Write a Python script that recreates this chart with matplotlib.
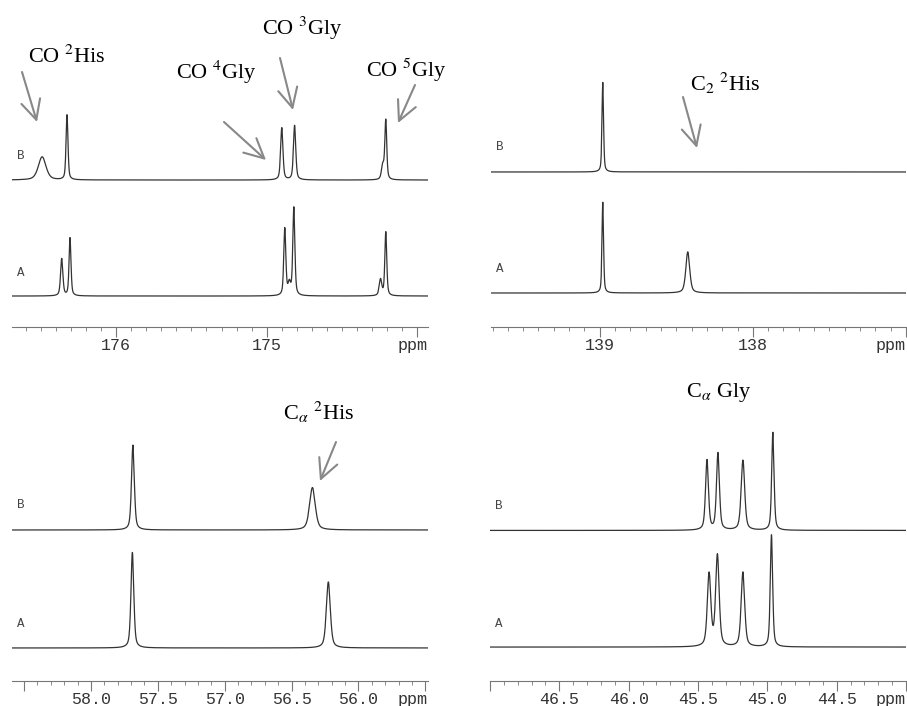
import matplotlib
matplotlib.use("Agg")
import matplotlib.pyplot as plt
import matplotlib.transforms as mtrans
import numpy as np
from matplotlib.ticker import MultipleLocator, FixedLocator

plt.rcParams['mathtext.fontset'] = 'stix'
plt.rcParams['font.family'] = 'Liberation Serif'

# peak tables: ppm position, height (relative to A-B spacing), width (ppm)
co_ppm_a = [176.36, 176.305, 174.88, 174.85, 174.82, 174.245, 174.21]
co_hgt_a = [0.32, 0.50, 0.58, 0.10, 0.76, 0.14, 0.55]
co_wid_a = [0.018, 0.015, 0.016, 0.02, 0.016, 0.02, 0.015]
co_ppm_b = [176.49, 176.325, 174.90, 174.815, 174.23, 174.21]
co_hgt_b = [0.20, 0.56, 0.45, 0.47, 0.12, 0.51]
co_wid_b = [0.06, 0.015, 0.018, 0.018, 0.02, 0.015]

c2_ppm_a = [138.98, 138.425]
c2_hgt_a = [0.75, 0.34]
c2_wid_a = [0.012, 0.03]
c2_ppm_b = [138.98]
c2_hgt_b = [0.74]
c2_wid_b = [0.012]

ca_ppm_a = [57.69, 56.225]
ca_hgt_a = [0.81, 0.56]
ca_wid_a = [0.025, 0.035]
ca_ppm_b = [57.686, 56.344]
ca_hgt_b = [0.72, 0.36]
ca_wid_b = [0.025, 0.05]

gly_ppm_a = [45.42, 45.36, 45.176, 44.97]
gly_hgt_a = [0.62, 0.78, 0.64, 0.96]
gly_wid_a = [0.03, 0.03, 0.03, 0.02]
gly_ppm_b = [45.435, 45.356, 45.176, 44.96]
gly_hgt_b = [0.60, 0.66, 0.60, 0.84]
gly_wid_b = [0.025, 0.025, 0.03, 0.02]

W, H = 907, 706


def spectrum(x, ppm, hgt, wid):
    # half lorentzian, half gaussian line shape
    y = np.zeros_like(x)
    for p, h, w in zip(ppm, hgt, wid):
        d = (x - p) / (w / 2)
        y += h * (0.5 / (1 + d ** 2) + 0.5 * np.exp(-np.log(2) * d ** 2))
    return y


# panel layout: (left px, right px, spine px, top px), xlim, major step, A/B peaks
panels = [
    ((12, 428, 327, 0), (176.69, 173.93), 1.0, '%d', (-0.267, 2.552),
     (co_ppm_a, co_hgt_a, co_wid_a), (co_ppm_b, co_hgt_b, co_wid_b)),
    ((491, 906, 327, 0), (139.71, 137.0), 1.0, '%d', (-0.281, 2.421),
     (c2_ppm_a, c2_hgt_a, c2_wid_a), (c2_ppm_b, c2_hgt_b, c2_wid_b)),
    ((12, 428, 681, 355), (58.59, 55.48), 0.5, '%.1f', (-0.280, 2.483),
     (ca_ppm_a, ca_hgt_a, ca_wid_a), (ca_ppm_b, ca_hgt_b, ca_wid_b)),
    ((490, 906, 681, 355), (47.0, 44.0), 0.5, '%.1f', (-0.291, 2.504),
     (gly_ppm_a, gly_hgt_a, gly_wid_a), (gly_ppm_b, gly_hgt_b, gly_wid_b)),
]

fig = plt.figure(figsize=(W / 100, H / 100), dpi=100)

for (l, r, b, t), xl, step, fmt, yl, pa, pb in panels:
    ax = fig.add_axes([l / W, 1 - b / H, (r - l) / W, (b - t) / H])
    ax.patch.set_visible(False)
    x = np.linspace(xl[1], xl[0], 4000)
    ax.plot(x, spectrum(x, *pa), color='#333333', lw=0.9)
    ax.plot(x, spectrum(x, *pb) + 1.0, color='#333333', lw=0.9)
    ax.set_xlim(xl)
    ax.set_ylim(yl)
    for s in ['top', 'left', 'right']:
        ax.spines[s].set_visible(False)
    ax.spines['bottom'].set_color('#777777')
    ax.set_yticks([])
    lo, hi = min(xl), max(xl)
    majors = np.arange(np.ceil(lo / step) * step, hi + 1e-6, step)
    ax.xaxis.set_major_locator(FixedLocator(majors))
    ax.xaxis.set_minor_locator(MultipleLocator(0.1))
    ax.set_xticklabels([fmt % m if lo + 0.12 < m < hi - 0.12 else '' for m in majors],
                       family='Liberation Mono', fontsize=12, color='#333333')
    ax.tick_params(axis='x', which='major', length=7, color='#777777', pad=1)
    ax.tick_params(axis='x', which='minor', length=3, color='#777777')
    ax.annotate('ppm', xy=(1.0, 0), xycoords='axes fraction', xytext=(0, -8),
                textcoords='offset points', ha='right', va='top',
                family='Liberation Mono', fontsize=12, color='#333333')
    tr = mtrans.blended_transform_factory(ax.transAxes, ax.transData)
    ax.text(0.012, 1.21, 'B', transform=tr, family='Liberation Mono',
            fontsize=9, color='#444444', va='center')
    ax.text(0.012, 0.2, 'A', transform=tr, family='Liberation Mono',
            fontsize=9, color='#444444', va='center')

labels = [
    ('CO $^{2}$His', 67, 57),
    ('CO $^{4}$Gly', 216, 72),
    ('CO $^{3}$Gly', 302, 28),
    ('CO $^{5}$Gly', 406, 70),
    ('C$_{2}$ $^{2}$His', 725, 83),
    (r'C$_{\alpha}$ $^{2}$His', 319, 412),
    (r'C$_{\alpha}$ Gly', 719, 392),
]
for txt, px, py in labels:
    fig.text(px / W, 1 - py / H, txt, ha='center', va='center', fontsize=16,
             color='black')

arrows = [
    ((22, 72), (37, 122)),
    ((224, 122), (266, 160)),
    ((280, 58), (293, 110)),
    ((415, 85), (398, 123)),
    ((683, 97), (697, 148)),
    ((336, 442), (320, 481)),
]
for (x0, y0), (x1, y1) in arrows:
    fig.axes[-1].annotate('', xy=(x1, H - y1), xycoords='figure pixels',
                          xytext=(x0, H - y0), textcoords='figure pixels',
                          arrowprops=dict(arrowstyle='->,head_length=0.7,head_width=0.35',
                                          color='#888888', lw=1.5,
                                          mutation_scale=20,
                                          shrinkA=0, shrinkB=0),
                          annotation_clip=False)

fig.savefig('out.png', dpi=100)
